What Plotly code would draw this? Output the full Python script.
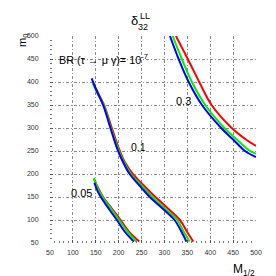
import plotly.graph_objects as go

# ---- data ----
x_ticks = [50, 100, 150, 200, 250, 300, 350, 400, 450, 500]
y_ticks = [50, 100, 150, 200, 250, 300, 350, 400, 450, 500]

# delta = 0.05 contour
c005_blue_x = [147, 153, 161, 178, 196, 213, 233]
c005_blue_y = [181, 165, 150, 125, 100, 75, 53]
c005_green_x = [146, 154, 165, 183, 201, 219, 239]
c005_green_y = [191, 170, 150, 125, 100, 75, 53]
c005_red_x = [146, 155, 166, 185, 204, 222, 245]
c005_red_y = [190, 170, 150, 125, 100, 75, 53]

# delta = 0.1 contour
c01_blue_x = [141, 152, 166, 182, 196, 210, 224, 250, 268, 300, 322, 337, 348]
c01_blue_y = [408, 381, 350, 300, 257, 225, 200, 170, 150, 121, 100, 75, 53]
c01_green_x = [143, 154, 167, 183, 198, 212, 227, 250, 272, 300, 328, 342, 355]
c01_green_y = [397, 375, 350, 300, 257, 225, 200, 175, 152, 126, 100, 75, 53]
c01_red_x = [145, 156, 168, 185, 200, 214, 231, 250, 275, 300, 334, 349, 363]
c01_red_y = [396, 374, 350, 300, 257, 225, 200, 180, 155, 132, 100, 75, 53]

# delta = 0.3 contour
c03_blue_x = [312, 331, 353, 382, 424, 450, 476, 500]
c03_blue_y = [500, 450, 400, 350, 300, 275, 250, 237]
c03_green_x = [318, 338, 360, 389, 431, 458, 487, 500]
c03_green_y = [500, 450, 400, 350, 300, 275, 250, 244]
c03_red_x = [325, 351, 376, 403, 447, 478, 500]
c03_red_y = [500, 450, 400, 350, 300, 275, 261]

curves = [
    (c005_red_x, c005_red_y, "#ff0000"),
    (c005_green_x, c005_green_y, "#00ee00"),
    (c005_blue_x, c005_blue_y, "#0000ff"),
    (c01_red_x, c01_red_y, "#ff0000"),
    (c01_green_x, c01_green_y, "#00ee00"),
    (c01_blue_x, c01_blue_y, "#0000ff"),
    (c03_red_x, c03_red_y, "#ff0000"),
    (c03_green_x, c03_green_y, "#00ee00"),
    (c03_blue_x, c03_blue_y, "#0000ff"),
]

fig = go.Figure()

for xs, ys, col in curves:
    fig.add_trace(go.Scatter(
        x=xs, y=ys, mode="lines",
        line=dict(color=col, width=2, shape="spline", smoothing=1.0),
        showlegend=False, hoverinfo="skip"))

FONT = "Liberation Sans, Arial, sans-serif"

axis_common = dict(
    range=[50, 500], showgrid=True, gridcolor="#8a8a8a", gridwidth=1,
    griddash="3px,2px,1px,2px",
    zeroline=False, showline=True, linecolor="rgba(255,255,255,0)", linewidth=1,
    mirror=True,
    ticks="inside", ticklen=3, tickwidth=1, tickcolor="#555555",
    tickfont=dict(family=FONT, size=7, color="#333333"),
    minor=dict(dtick=10, tick0=50, ticks="inside", ticklen=2, tickcolor="#777777", showgrid=False),
)

fig.update_layout(
    width=276, height=276,
    margin=dict(l=42, r=28, t=28, b=41),
    plot_bgcolor="white", paper_bgcolor="white",
    showlegend=False,
    font=dict(family=FONT, color="#000000"),
    xaxis=dict(tickmode="array", tickvals=x_ticks, ticktext=[str(v) for v in x_ticks],
               ticklabelstandoff=3, **axis_common),
    yaxis=dict(tickmode="array", tickvals=y_ticks, ticktext=[str(v) for v in y_ticks],
               ticklabelstandoff=9, **axis_common),
)

def px2paper(px, py):
    return (px - 42) / 206.0, (235 - py) / 207.0

annotations = []

def ann(text, px, py, size, xanchor="center", textangle=0, color="#000000"):
    x, y = px2paper(px, py)
    annotations.append(dict(
        text=text, x=x, y=y, xref="paper", yref="paper", showarrow=False,
        xanchor=xanchor, yanchor="middle", textangle=textangle,
        font=dict(family=FONT, size=size, color=color)))

# title delta_32^LL
ann("δ", 126.5, 13, 13)
ann("LL", 137, 8, 9)
ann("32", 135, 19, 9)

# axis titles
ann("m<sub>0</sub>", 15, 33, 11, textangle=-90)
ann("M<sub>1/2</sub>", 236, 262, 12)

# in-plot labels
ann("BR (τ → μ γ)= 10<sup>-7</sup>", 49, 51, 10.8, xanchor="left")
ann("0.3", 175.5, 92.5, 11)
ann("0.1", 130, 139, 10.5)
ann("0.05", 73.5, 185, 11)

fig.update_layout(annotations=annotations)

fig.write_html("out.html")
